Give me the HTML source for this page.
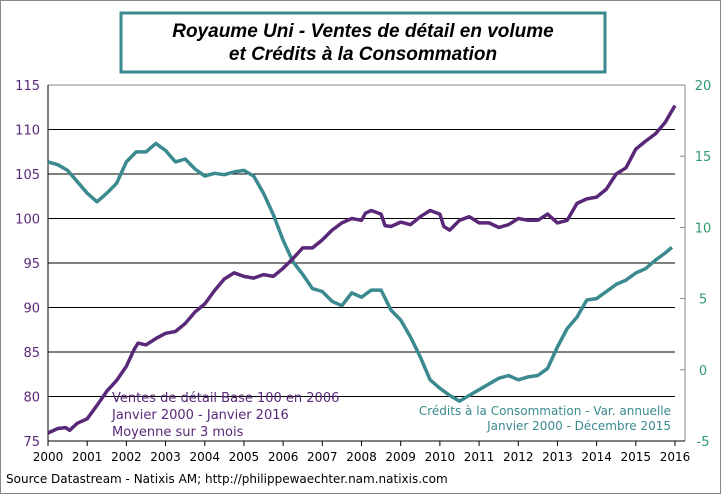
<!DOCTYPE html>
<html><head><meta charset="utf-8"><style>
body{margin:0;background:#fff;}
svg{display:block;font-family:"DejaVu Sans","Liberation Sans",sans-serif;}
</style></head><body>
<svg id="chart" width="721" height="494" viewBox="0 0 721 494">
<rect x="0.5" y="0.5" width="720" height="493" fill="#fff" stroke="#888"/>
<rect x="121" y="13" width="484" height="59" fill="#fff" stroke="#3a8a8f" stroke-width="3"/>
<text x="363" y="37" text-anchor="middle" font-family="Liberation Sans, sans-serif" font-weight="bold" font-style="italic" font-size="19">Royaume Uni - Ventes de détail en volume</text>
<text x="363" y="60" text-anchor="middle" font-family="Liberation Sans, sans-serif" font-weight="bold" font-style="italic" font-size="19">et Crédits à la Consommation</text>
<g id="grid"></g><g id="axes"></g><g id="series"></g>
<text x="112" y="402" font-size="13" fill="#5a2878">Ventes de détail Base 100 en 2006</text>
<text x="112" y="419" font-size="13" fill="#5a2878">Janvier 2000 - Janvier 2016</text>
<text x="112" y="436" font-size="13" fill="#5a2878">Moyenne sur 3 mois</text>
<text x="671" y="415" text-anchor="end" font-size="12" fill="#3a8a8f">Crédits à la Consommation  - Var. annuelle</text>
<text x="671" y="430" text-anchor="end" font-size="12" fill="#3a8a8f">Janvier 2000 - Décembre 2015</text>
<text x="6" y="483" font-size="12" fill="#000">Source Datastream - Natixis AM;  http://philippewaechter.nam.natixis.com</text>
</svg>
<script>
const years=[2000,2001,2002,2003,2004,2005,2006,2007,2008,2009,2010,2011,2012,2013,2014,2015,2016];
const leftTicks=[75,80,85,90,95,100,105,110,115];
const rightTicks=[-5,0,5,10,15,20];
const salesT=[2000,2000.25,2000.45,2000.55,2000.75,2001,2001.25,2001.5,2001.75,2002,2002.2,2002.3,2002.5,2002.75,2003,2003.25,2003.5,2003.75,2004,2004.25,2004.5,2004.75,2005,2005.25,2005.5,2005.75,2006,2006.25,2006.5,2006.75,2007,2007.25,2007.5,2007.75,2008,2008.1,2008.25,2008.5,2008.6,2008.75,2009,2009.25,2009.5,2009.75,2010,2010.1,2010.25,2010.5,2010.75,2011,2011.25,2011.5,2011.75,2012,2012.25,2012.5,2012.75,2013,2013.25,2013.5,2013.75,2014,2014.25,2014.5,2014.75,2015,2015.25,2015.5,2015.75,2016];
const salesV=[75.9,76.4,76.5,76.2,77.0,77.5,79,80.6,81.8,83.4,85.3,86,85.8,86.5,87.1,87.3,88.2,89.5,90.4,91.9,93.2,93.9,93.5,93.3,93.7,93.5,94.4,95.5,96.7,96.7,97.6,98.7,99.5,100.0,99.8,100.6,100.9,100.5,99.2,99.1,99.6,99.3,100.2,100.9,100.5,99.1,98.7,99.8,100.2,99.5,99.5,99.0,99.3,100.0,99.8,99.8,100.5,99.5,99.8,101.7,102.2,102.4,103.3,105.0,105.7,107.8,108.7,109.5,110.8,112.7];
const creditT=[2000,2000.25,2000.5,2000.75,2001,2001.25,2001.5,2001.75,2002,2002.25,2002.5,2002.75,2003,2003.25,2003.5,2003.75,2004,2004.25,2004.5,2004.75,2005,2005.25,2005.5,2005.75,2006,2006.25,2006.5,2006.75,2007,2007.25,2007.5,2007.75,2008,2008.25,2008.5,2008.75,2009,2009.25,2009.5,2009.75,2010,2010.25,2010.5,2010.75,2011,2011.25,2011.5,2011.75,2012,2012.25,2012.5,2012.75,2013,2013.25,2013.5,2013.75,2014,2014.25,2014.5,2014.75,2015,2015.25,2015.5,2015.75,2015.92];
const creditV=[14.6,14.4,14.0,13.2,12.4,11.8,12.4,13.1,14.6,15.3,15.3,15.9,15.4,14.6,14.8,14.1,13.6,13.8,13.7,13.9,14.0,13.6,12.4,10.9,9.1,7.6,6.7,5.7,5.5,4.8,4.5,5.4,5.1,5.6,5.6,4.2,3.5,2.3,0.9,-0.7,-1.3,-1.8,-2.2,-1.8,-1.4,-1.0,-0.6,-0.4,-0.7,-0.5,-0.4,0.1,1.6,2.9,3.7,4.9,5.0,5.5,6.0,6.3,6.8,7.1,7.7,8.2,8.6];
{
const X0=48,X1=675,YT=85,YB=441;
const x=t=>X0+(t-2000)/16*(X1-X0);
const yL=v=>YB-(v-75)/40*(YB-YT);
const yR=v=>YB-(v+5)/25*(YB-YT);
const NS="http://www.w3.org/2000/svg";
function mk(tag,attrs,parent,txt){const e=document.createElementNS(NS,tag);for(const k in attrs)e.setAttribute(k,attrs[k]);if(txt!==undefined)e.textContent=txt;parent.appendChild(e);return e;}
const grid=document.getElementById('grid'),axes=document.getElementById('axes'),ser=document.getElementById('series');
leftTicks.forEach(v=>{
  if(v>75&&v<115){const l=mk('line',{x1:X0,x2:X1,y1:yL(v),y2:yL(v),stroke:'#000','stroke-width':1},grid);
  
  }
  const t=mk('text',{x:X0-8,y:yL(v)+5,'text-anchor':'end','font-size':13,fill:'#5a2878'},axes,String(v));
  
  
});
rightTicks.forEach(v=>{
  const tk=mk('line',{x1:X1+10,x2:X1+5,y1:yR(v),y2:yR(v),stroke:'#888'},axes);
  
  
  const t=mk('text',{x:X1+28,y:yR(v)+5,'text-anchor':'middle','font-size':13,fill:'#2e9a6e'},axes,String(v));
  
  
});
const topBorder=mk('line',{x1:X0,x2:X1+10,y1:YT,y2:YT,stroke:'#888'},axes);


const ra=mk('line',{x1:X1+10,x2:X1+10,y1:YT,y2:YB,stroke:'#888'},axes);


const la=mk('line',{x1:X0,x2:X0,y1:YT,y2:YB,stroke:'#000'},axes);


const xa=mk('line',{x1:X0,x2:X1+10,y1:YB,y2:YB,stroke:'#000'},axes);


years.forEach(yr=>{
  const tk=mk('line',{x1:x(yr),x2:x(yr),y1:YB,y2:YB+5,stroke:'#000'},axes);
  
  
  const t=mk('text',{x:x(yr),y:YB+20,'text-anchor':'middle','font-size':12,fill:'#000'},axes,String(yr));
  
  
});
const cp=mk('polyline',{points:creditT.map((t,i)=>x(t).toFixed(1)+','+yR(creditV[i]).toFixed(1)).join(' '),fill:'none',stroke:'#3a8a8f','stroke-width':3.5,'stroke-linejoin':'round'},ser);


const sp=mk('polyline',{points:salesT.map((t,i)=>x(t).toFixed(1)+','+yL(salesV[i]).toFixed(1)).join(' '),fill:'none',stroke:'#5a2878','stroke-width':3.5,'stroke-linejoin':'round'},ser);


}
</script>
</body></html>
